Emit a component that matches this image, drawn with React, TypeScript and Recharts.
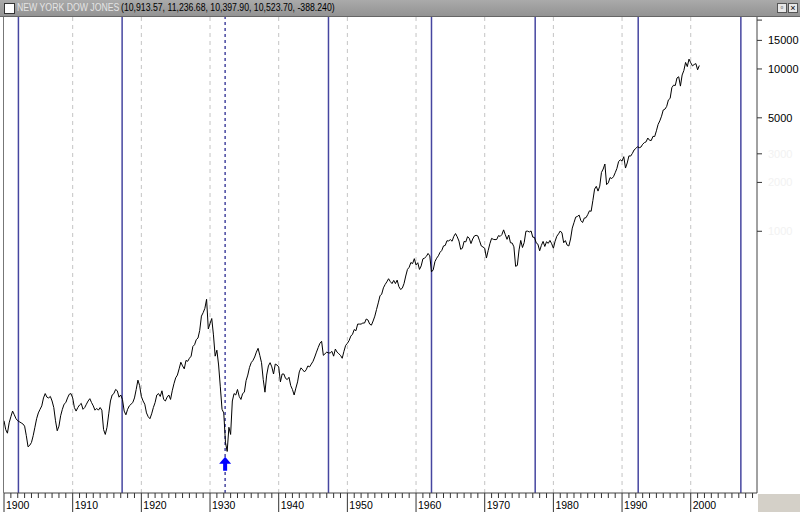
import { LineChart, Line, XAxis, YAxis, ReferenceLine, ReferenceDot } from 'recharts'

// quarterly closes, one array per decade
const q1900s = [
  68, 60, 57, 66, 72, 78, 74, 70, 68, 67, 66, 65, 63, 55, 47, 48, 50, 55, 62, 70,
  76, 80, 84, 94, 100, 95, 94, 96, 90, 82, 68, 59, 63, 73, 80, 86, 88, 94, 99, 100,
]
const q1910s = [
  94, 82, 78, 82, 85, 87, 80, 82, 86, 90, 93, 88, 84, 79, 81, 79, 82, 79, 60, 56,
  62, 75, 90, 98, 100, 106, 104, 95, 98, 92, 78, 74, 80, 84, 86, 88, 94, 106, 121, 112,
]
const q1920s = [
  96, 90, 86, 76, 72, 70, 75, 82, 88, 98, 100, 96, 104, 92, 90, 95, 98, 92, 104, 115,
  125, 130, 142, 156, 148, 142, 160, 158, 165, 170, 195, 200, 215, 220, 245, 300, 315, 335, 381, 250,
]
const q1930s = [
  270, 290, 230, 170, 185, 150, 110, 80, 76, 50, 44, 62, 56, 90, 100, 98, 106, 96, 92, 100,
  102, 120, 130, 145, 155, 160, 168, 180, 190, 172, 155, 122, 102, 130, 148, 155, 146, 132, 152, 150,
]
const q1940s = [
  146, 118, 132, 132, 124, 122, 126, 112, 106, 98, 108, 118, 136, 144, 140, 136, 140, 148, 146, 152,
  158, 168, 180, 192, 204, 210, 172, 176, 180, 178, 178, 182, 170, 188, 180, 176, 172, 165, 182, 198,
]
const q1950s = [
  204, 212, 226, 232, 248, 244, 268, 268, 268, 272, 272, 288, 284, 268, 264, 280, 300, 330, 362, 400,
  410, 448, 470, 488, 510, 490, 476, 498, 476, 500, 456, 438, 446, 476, 530, 582, 600, 642, 632, 678,
]
const q1960s = [
  620, 640, 582, 612, 676, 684, 700, 730, 706, 562, 578, 650, 682, 706, 742, 762, 812, 818, 874, 872,
  888, 868, 930, 968, 924, 870, 774, 786, 866, 860, 926, 906, 840, 896, 936, 944, 936, 874, 812, 800,
]
const q1970s = [
  786, 684, 760, 838, 904, 892, 888, 890, 940, 930, 954, 1020, 952, 892, 948, 850, 846, 802, 608, 616,
  768, 878, 794, 852, 1000, 1002, 990, 1004, 920, 916, 848, 832, 758, 818, 866, 806, 862, 842, 878, 838,
]
const q1980s = [
  786, 868, 932, 964, 1004, 976, 850, 876, 822, 812, 896, 1046, 1130, 1222, 1234, 1258, 1164, 1132, 1206, 1212,
  1266, 1336, 1328, 1546, 1818, 1892, 1768, 1896, 2304, 2418, 2596, 1938, 1988, 2142, 2112, 2168, 2294, 2440, 2692, 2754,
]
const q1990s = [
  2708, 2880, 2452, 2634, 2914, 2906, 3016, 3168, 3236, 3318, 3272, 3302, 3436, 3516, 3556, 3754, 3636, 3624, 3844, 3834,
  4158, 4556, 4790, 5118, 5588, 5654, 5882, 6448, 6584, 7672, 7946, 7908, 8800, 8952, 7842, 9182, 9786, 10970, 10338, 11498,
]
const q2000s = [10922, 10448, 10650, 10788, 9878, 10502]

const decadeStarts = [1900, 1910, 1920, 1930, 1940, 1950, 1960, 1970, 1980, 1990, 2000]
const decadeValues = [q1900s, q1910s, q1920s, q1930s, q1940s, q1950s, q1960s, q1970s, q1980s, q1990s, q2000s]

// 15-year cycle markers, the 1932 one is dotted
const cycleLines = [1902.1, 1917.2, 1947.25, 1962.25, 1977.35, 1992.35, 2007.3]
const lowMarker = 1932.2
const decadeLines = [1910, 1920, 1930, 1940, 1950, 1960, 1970, 1980, 1990, 2000]

const priceTicks = [1000, 2000, 3000, 5000, 10000, 15000, 20000]
const labelledPrices = [5000, 10000, 15000, 1000, 2000, 3000]
const faintPrices = [1000, 2000, 3000]

const yearTicks = Array.from({ length: 110 }, (_, i) => 1900 + i)

const data = decadeStarts.flatMap((start, d) =>
  decadeValues[d].map((v, i) => ({ t: start + i * 0.25, v }))
)

const font = '"Liberation Sans", Arial, sans-serif'

function YearTick({ x, y, payload }: any) {
  const yr = payload.value
  const major = yr % 10 === 0
  return (
    <g>
      <line x1={x} x2={x} y1={y} y2={y + (major ? 19 : 5)} stroke='#333' />
      {major && (
        <text x={x + 2} y={y + 16} fontSize={10.5} fontFamily={font} fill='#000'>
          {yr}
        </text>
      )}
    </g>
  )
}

function PriceTick({ x, y, payload }: any) {
  const v = payload.value
  const show = labelledPrices.includes(v)
  return (
    <g>
      <line x1={x} x2={x + 5} y1={y} y2={y} stroke='#333' />
      {show && (
        <text
          x={x + 11}
          y={y + 4}
          fontSize={11}
          fontFamily={font}
          fill={faintPrices.includes(v) ? '#f2f2f2' : '#000'}
        >
          {v}
        </text>
      )}
    </g>
  )
}

function UpArrow({ cx, cy }: any) {
  return (
    <path
      d={`M${cx},${cy - 7} L${cx + 6},${cy} L${cx + 2},${cy} L${cx + 2},${cy + 7} L${cx - 2},${cy + 7} L${cx - 2},${cy} L${cx - 6},${cy} Z`}
      fill='#0000ff'
    />
  )
}

const squeeze = {
  position: 'absolute' as const,
  top: 0,
  fontSize: 10,
  transform: 'scaleX(0.87)',
  transformOrigin: 'left center',
}

export default function App() {
  return (
    <div
      style={{
        position: 'absolute',
        left: 0,
        top: 0,
        width: 800,
        height: 512,
        background: '#fff',
        fontFamily: font,
        overflow: 'hidden',
      }}
    >
      <LineChart
        width={800}
        height={512}
        data={data}
        margin={{ top: 17, right: 0, bottom: 0, left: 4 }}
      >
        <XAxis
          dataKey='t'
          type='number'
          domain={[1900, 2009.65]}
          allowDataOverflow
          ticks={yearTicks}
          interval={0}
          tick={<YearTick />}
          tickSize={0}
          tickMargin={0}
          height={19}
          axisLine={{ stroke: '#444' }}
        />
        <YAxis
          orientation='right'
          scale='log'
          domain={[24.4, 20900]}
          allowDataOverflow
          ticks={priceTicks}
          interval={0}
          tick={<PriceTick />}
          tickSize={0}
          tickMargin={0}
          width={43}
          axisLine={{ stroke: '#444' }}
        />
        {decadeLines.map((yr) => (
          <ReferenceLine key={yr} x={yr} stroke='#c4c4c4' strokeDasharray='4 4' />
        ))}
        {cycleLines.map((yr) => (
          <ReferenceLine key={yr} x={yr} stroke='#4646a0' strokeWidth={1.5} />
        ))}
        <ReferenceLine x={lowMarker} stroke='#4646a0' strokeWidth={1.5} strokeDasharray='3 3' />
        <Line
          type='linear'
          dataKey='v'
          stroke='#000'
          strokeWidth={1}
          dot={false}
          isAnimationActive={false}
        />
        <ReferenceDot x={lowMarker} y={37} r={6} shape={<UpArrow />} />
      </LineChart>

      {/* left frame */}
      <div style={{ position: 'absolute', left: 3, top: 17, width: 1, height: 476, background: '#777' }} />
      {/* bottom right corner */}
      <div style={{ position: 'absolute', left: 758, top: 494, width: 42, height: 18, background: '#d4d0c8' }} />
      {/* window title bar */}
      <div
        style={{
          position: 'absolute',
          left: 0,
          top: 0,
          width: 800,
          height: 16,
          background: 'linear-gradient(#aaa, #939393)',
          borderBottom: '1px solid #666',
          fontSize: 10,
          lineHeight: '16px',
          whiteSpace: 'nowrap',
        }}
      >
        <span
          style={{
            position: 'absolute',
            left: 4,
            top: 3,
            width: 9,
            height: 9,
            background: '#fff',
            border: '1px solid #333',
          }}
        />
        <span style={{ ...squeeze, left: 17, color: '#e4e4e4' }}>NEW YORK DOW JONES</span>
        <span style={{ ...squeeze, left: 121, color: '#000' }}>
          (10,913.57, 11,236.68, 10,397.90, 10,523.70, -388.240)
        </span>
        <span
          style={{
            position: 'absolute',
            left: 777,
            top: 3,
            width: 8,
            height: 8,
            background: '#e8e8e8',
            border: '1px solid #555',
            fontSize: 8,
            lineHeight: '8px',
            textAlign: 'center',
          }}
        >
          ▫
        </span>
        <span
          style={{
            position: 'absolute',
            left: 788,
            top: 3,
            width: 8,
            height: 8,
            background: '#e8e8e8',
            border: '1px solid #555',
            fontSize: 9,
            lineHeight: '8px',
            textAlign: 'center',
          }}
        >
          ×
        </span>
      </div>
    </div>
  )
}
